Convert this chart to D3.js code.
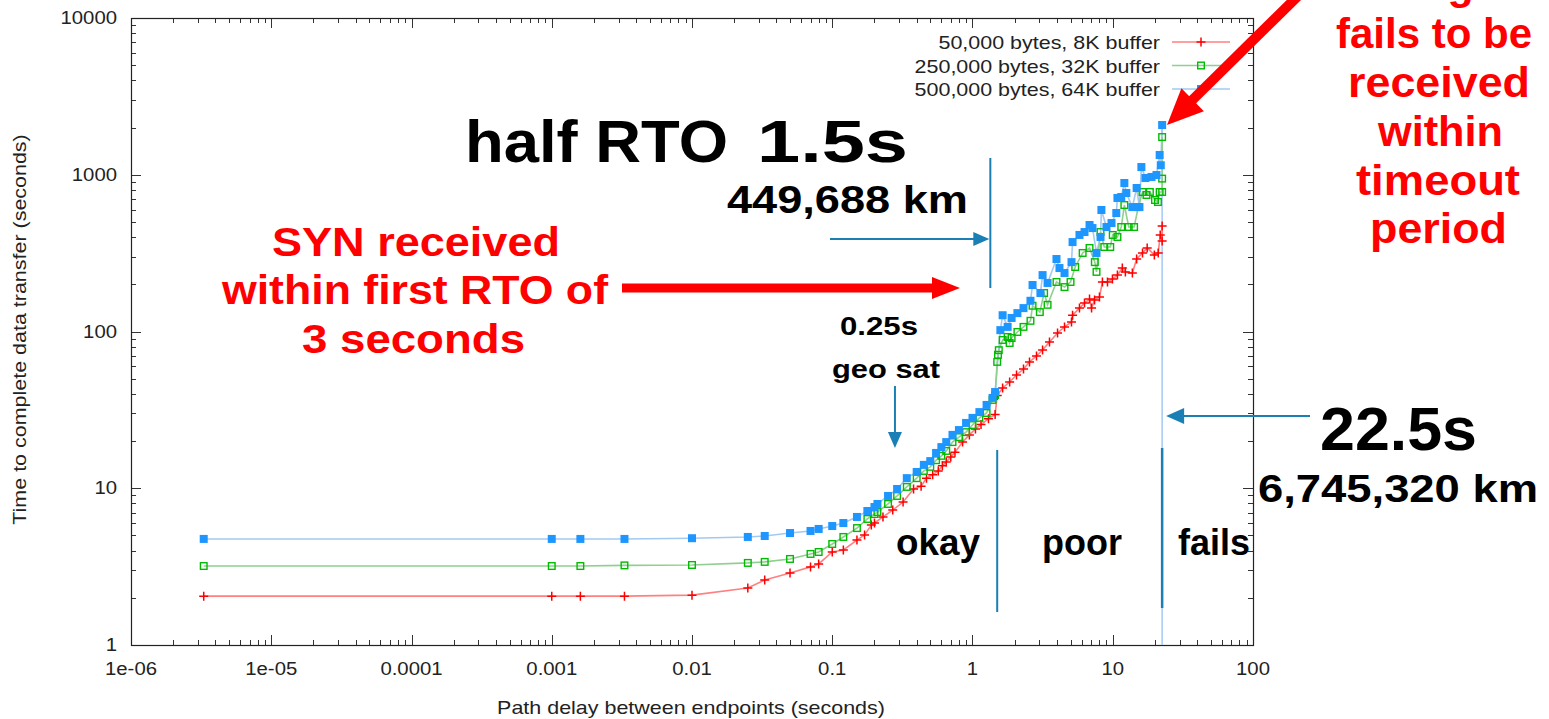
<!DOCTYPE html>
<html><head><meta charset="utf-8">
<script src="https://cdn.jsdelivr.net/npm/d3@7"></script>
<style>
html,body{margin:0;padding:0;background:#fff;}
svg{display:block;font-family:"Liberation Sans",Arial,sans-serif;}
</style></head>
<body><svg id="c" width="1549" height="719"></svg>
<script>
// ---- data ----
const seriesNames = ["50,000 bytes, 8K buffer","250,000 bytes, 32K buffer","500,000 bytes, 64K buffer"];
const xTickLabels = ["1e-06","1e-05","0.0001","0.001","0.01","0.1","1","10","100"];
const yTickLabels = ["1","10","100","1000","10000"];

const redDelay = [3.3e-6,0.001,0.0016,0.0033,0.01,0.025,0.033,0.05,0.07,0.08,0.1,0.12,0.15,0.17,0.19,0.2,0.23,0.27,0.32,0.38,0.43,0.47,0.52,0.57,0.61,0.65,0.7,0.75,0.85,0.95,1.05,1.15,1.3,1.45,1.5,1.64,1.84,2.06,2.31,2.55,2.86,3.16,3.54,4.04,4.53,5.08,5.17,5.79,6.29,6.83,7.06,7.42,8.04,8.44,9.17,9.95,10.8,11.7,12.3,13.8,14.8,16.3,17.6,19.8,21.1,21.8,22.5,22.5];
const redTime  = [2.05,2.05,2.05,2.05,2.08,2.31,2.60,2.88,3.15,3.29,3.92,4.04,4.67,5.03,5.83,6.0,6.56,7.26,8.17,9.89,10.3,11.6,12.2,12.9,13.9,14.7,15.8,17.0,19.7,21.9,23.9,25.5,27.8,29.5,39,43.6,47.6,52.8,57.6,63.9,69.8,76.2,85.7,97.8,107,115,127,141,152,161,141,159,166,207,207,216,229,254,240,236,290,317,341,308,317,413,378,471];

const greenDelay = [3.3e-6,0.001,0.0016,0.0033,0.01,0.025,0.033,0.05,0.07,0.08,0.1,0.12,0.15,0.178,0.2,0.21,0.25,0.29,0.34,0.4,0.45,0.5,0.55,0.6,0.65,0.72,0.8,0.9,1.0,1.12,1.26,1.39,1.45,1.5,1.52,1.54,1.64,1.78,1.84,1.90,2.09,2.31,2.59,2.68,3.02,3.24,3.43,3.97,4.53,5.0,5.4,6.1,6.83,7.45,7.66,8.18,8.7,9.6,10.0,10.8,11.5,12.1,13.0,14.2,15.2,16.3,17.4,18.4,20.0,21.0,21.6,22.5,22.5,22.5];
const greenTime  = [3.19,3.19,3.19,3.22,3.24,3.34,3.39,3.54,3.81,3.92,4.41,4.89,5.57,6.37,6.85,7.05,7.94,8.93,10.2,11.6,12.9,13.7,15.1,16.1,17.3,19.7,21.2,22.8,25.3,28.1,30.2,36.6,39.3,64,71,76,88.3,92.3,84.5,90.9,99.3,107,117,146,133,176,148,207,192,207,258,317,341,277,240,431,346,346,413,401,464,641,464,464,622,776,743,776,690,670,776,776,945,1740];

const blueDelay = [3.3e-6,0.001,0.0016,0.0033,0.01,0.025,0.033,0.05,0.07,0.08,0.1,0.12,0.15,0.178,0.2,0.21,0.25,0.29,0.34,0.4,0.45,0.5,0.55,0.6,0.65,0.72,0.8,0.9,1.0,1.12,1.26,1.39,1.45,1.58,1.64,1.78,1.90,2.09,2.31,2.59,2.68,3.05,3.16,3.43,3.97,4.17,4.53,5.08,5.17,5.79,6.29,6.83,7.17,7.66,8.18,8.3,9.02,9.80,10.6,10.8,11.5,12.1,12.5,13.8,14.8,15.5,16.0,17.1,18.9,20.5,21.6,22.0,22.5];
const blueTime  = [4.75,4.75,4.75,4.75,4.8,4.89,4.96,5.18,5.34,5.50,5.74,6.0,6.56,7.16,7.59,7.94,8.93,9.89,11.6,12.7,14.1,14.9,16.8,18.3,19.7,21.9,23.5,26.1,28.1,30.6,34.0,37.7,41.1,102,127,107,122,131,141,157,198,176,229,204,290,254,236,277,372,413,431,478,457,317,401,596,464,492,570,711,721,886,765,622,823,622,1120,953,968,996,1337,1150,2077];
// the 64K transfer fails beyond the timeout: trace drops off the bottom of the plot
const blueFailDelay = [22.5, 22.5];
const blueFailTime  = [2077, 0.5];

const colors = {red:"#ff0000", green:"#00bb00", blue:"#1e96ff"};
const lineColors = {red:"#ff8080", green:"#8fcf8f", blue:"#a3c9f2"};

// ---- chart ----
const svg = d3.select("#c");
const L=131, R=1253, T=18, B=645;
const STRETCH = 1.13;
const x = d3.scaleLog().domain([1e-6,100]).range([L,R]);
const y = d3.scaleLog().domain([1,10000]).range([B,T]);

svg.append("defs").append("clipPath").attr("id","plot")
  .append("rect").attr("x",L).attr("y",T).attr("width",R-L).attr("height",B-T);

function stext(g,s,xx,yy,size,anchor,rot){
  return g.append("text")
    .attr("transform",`translate(${xx},${yy})${rot?" rotate("+rot+")":""} scale(${STRETCH},1)`)
    .attr("font-size",size).attr("text-anchor",anchor||"start").attr("fill","#222").text(s);
}

// ticks (gnuplot style, inward, mirrored)
const ax = svg.append("g").attr("stroke","#333").attr("stroke-width",1);
const xMajor = xTickLabels.map(Number);
const xMinor = [];
for (let e=-6;e<2;e++) for (let m=2;m<=9;m++) xMinor.push(m*Math.pow(10,e));
const yMajor = yTickLabels.map(Number);
const yMinor = [];
for (let e=0;e<4;e++) for (let m=2;m<=9;m++) yMinor.push(m*Math.pow(10,e));

xMajor.forEach(v=>{const px=Math.round(x(v))+0.5;
  ax.append("line").attr("x1",px).attr("x2",px).attr("y1",B).attr("y2",B-10);
  ax.append("line").attr("x1",px).attr("x2",px).attr("y1",T).attr("y2",T+10);});
xMinor.forEach(v=>{const px=Math.round(x(v))+0.5;
  ax.append("line").attr("x1",px).attr("x2",px).attr("y1",B).attr("y2",B-5);
  ax.append("line").attr("x1",px).attr("x2",px).attr("y1",T).attr("y2",T+5);});
yMajor.forEach(v=>{const py=Math.round(y(v))+0.5;
  ax.append("line").attr("x1",L).attr("x2",L+10).attr("y1",py).attr("y2",py);
  ax.append("line").attr("x1",R).attr("x2",R-10).attr("y1",py).attr("y2",py);});
yMinor.forEach(v=>{const py=Math.round(y(v))+0.5;
  ax.append("line").attr("x1",L).attr("x2",L+5).attr("y1",py).attr("y2",py);
  ax.append("line").attr("x1",R).attr("x2",R-5).attr("y1",py).attr("y2",py);});
svg.append("rect").attr("x",L+0.5).attr("y",T+0.5).attr("width",R-L).attr("height",B-T)
  .attr("fill","none").attr("stroke","#222").attr("stroke-width",1.2);

// tick labels
const tl = svg.append("g");
xTickLabels.forEach(s=>stext(tl,s,x(+s),B+30,18,"middle"));
yTickLabels.forEach(s=>stext(tl,s,L-14,y(+s)+6,18,"end"));
// axis titles
stext(svg,"Path delay between endpoints (seconds)",(L+R)/2-1,714,19,"middle");
stext(svg,"Time to complete data transfer (seconds)",26,(T+B)/2-2,19,"middle",-90);

// series
const plot = svg.append("g").attr("clip-path","url(#plot)");
const line = d3.line().x(d=>x(d[0])).y(d=>y(d[1]));
function zip(a,b){return a.map((v,i)=>[v,b[i]]);}
const red = zip(redDelay,redTime), green = zip(greenDelay,greenTime), blue = zip(blueDelay,blueTime);

plot.append("path").datum(zip(blueFailDelay,blueFailTime)).attr("d",line)
  .attr("fill","none").attr("stroke",lineColors.blue).attr("stroke-width",1.5);
[["blue",blue],["green",green],["red",red]].forEach(([k,d])=>{
  plot.append("path").datum(d).attr("d",line).attr("fill","none")
    .attr("stroke",lineColors[k]).attr("stroke-width",1.6);
});
function drawMarker(g,k,cx,cy){
  if(k==="red"){
    g.append("path").attr("d",`M${cx-4.5},${cy}H${cx+4.5}M${cx},${cy-4.5}V${cy+4.5}`)
     .attr("stroke",colors.red).attr("stroke-width",1.5).attr("fill","none");
  } else if(k==="green"){
    g.append("rect").attr("x",cx-3.3).attr("y",cy-3.3).attr("width",6.6).attr("height",6.6)
     .attr("fill","none").attr("stroke",colors.green).attr("stroke-width",1.4);
  } else {
    g.append("rect").attr("x",cx-4).attr("y",cy-4).attr("width",8).attr("height",8)
     .attr("fill",colors.blue);
  }
}
[["red",red],["green",green],["blue",blue]].forEach(([k,d])=>{
  const g = plot.append("g");
  d.forEach(p=>drawMarker(g,k,x(p[0]),y(p[1])));
});

// legend
const lg = svg.append("g");
["red","green","blue"].forEach((k,i)=>{
  const yy = 42 + i*23.5;
  stext(lg,seriesNames[i],1160,yy+7,19,"end");
  lg.append("line").attr("x1",1172).attr("x2",1230).attr("y1",yy).attr("y2",yy)
    .attr("stroke",lineColors[k]).attr("stroke-width",1.6);
  drawMarker(lg,k,1201,yy);
});

// ---- annotations ----
const BLUE = "#1a7fb5";
function hArrow(x1,x2,yy,col,w,hl,hw){
  const dir = Math.sign(x2-x1);
  svg.append("line").attr("x1",x1).attr("x2",x2-dir*hl*0.9).attr("y1",yy).attr("y2",yy)
    .attr("stroke",col).attr("stroke-width",w);
  svg.append("path").attr("d",`M${x2},${yy}L${x2-dir*hl},${yy-hw}L${x2-dir*hl},${yy+hw}Z`).attr("fill",col);
}
function vArrow(xx,y1,y2,col,w,hl,hw){
  svg.append("line").attr("x1",xx).attr("x2",xx).attr("y1",y1).attr("y2",y2-hl*0.9)
    .attr("stroke",col).attr("stroke-width",w);
  svg.append("path").attr("d",`M${xx},${y2}L${xx-hw},${y2-hl}L${xx+hw},${y2-hl}Z`).attr("fill",col);
}
function vLine(xx,y1,y2,w){
  svg.append("line").attr("x1",xx).attr("x2",xx).attr("y1",y1).attr("y2",y2)
    .attr("stroke",BLUE).attr("stroke-width",w);
}
// bold annotation text spanning [x1, x1+w]
function txt(s,x1,w,yy,size,col){
  return svg.append("text").attr("x",x1).attr("y",yy).attr("font-size",size)
    .attr("font-weight","bold").attr("fill",col)
    .attr("textLength",w).attr("lengthAdjust","spacingAndGlyphs").text(s);
}

// half RTO
txt("half RTO",465,263,162,60,"#000");
txt("1.5s",757,151,162,60,"#000");
txt("449,688 km",727,241,213,38,"#000");
vLine(x(1.34),158,288,2);
hArrow(830,x(1.34)-1,239,BLUE,2,16,7);

// SYN received
txt("SYN received",272,288,256,40,"#ff0000");
txt("within first RTO of",222,386,304,40,"#ff0000");
txt("3 seconds",302,223,353,40,"#ff0000");
hArrow(622,960,288,"#ff0000",9,28,11);

// geo sat
txt("0.25s",840,78,335,25,"#000");
txt("geo sat",832,108,378,25,"#000");
vArrow(x(0.28),386,448,BLUE,2,16,7);

// regions
vLine(x(1.5),450,612,2);
vLine(x(22.5),448,608,2.5);
txt("okay",896,84,555,36,"#000");
txt("poor",1042,80,555,36,"#000");
txt("fails",1178,72,555,36,"#000");

// 22.5s
txt("22.5s",1320,157,450,62,"#000");
txt("6,745,320 km",1258,280,502,38,"#000");
hArrow(1310,x(22.5)+4,416,BLUE,2,18,8);

// fails to be received (first line runs off the top edge, as in the source slide)
txt("SYN segment",1300,276,-1,42,"#ff0000");
txt("fails to be",1336,196,48,42,"#ff0000");
txt("received",1348,182,97,42,"#ff0000");
txt("within",1378,125,146,42,"#ff0000");
txt("timeout",1356,164,195,42,"#ff0000");
txt("period",1370,137,243,42,"#ff0000");
// big red arrow pointing to last point
(function(){
  const x1=1300,y1=-6,x2=1167,y2=125;
  const ang=Math.atan2(y2-y1,x2-x1), hl=36, hw=16;
  const bx=x2-Math.cos(ang)*hl, by=y2-Math.sin(ang)*hl;
  svg.append("line").attr("x1",x1).attr("y1",y1).attr("x2",bx+Math.cos(ang)*4).attr("y2",by+Math.sin(ang)*4)
    .attr("stroke","#ff0000").attr("stroke-width",10);
  const px=-Math.sin(ang), py=Math.cos(ang);
  svg.append("path").attr("d",`M${x2},${y2}L${bx+px*hw},${by+py*hw}L${bx-px*hw},${by-py*hw}Z`).attr("fill","#ff0000");
})();
</script></body></html>
